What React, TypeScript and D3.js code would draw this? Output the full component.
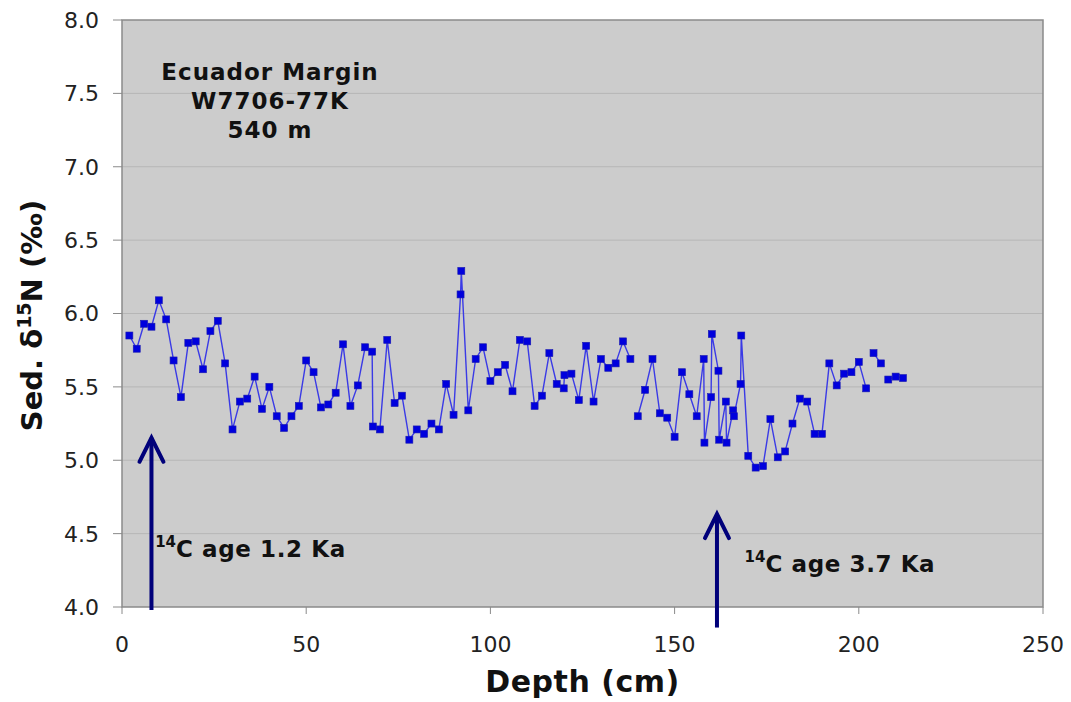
import React from "react";
import * as d3 from "d3";

// Core W7706-77K, Ecuador Margin (540 m): sediment δ15N versus depth.
// null entries break the line where samples are missing.
const depthCm: number[] = [
  2, 4, 6, 8, 10, 12, 14, 16, 18, 20, 22, 24, 26, 28, 30, 32, 34, 36, 38, 40,
  42, 44, 46, 48, 50, 52, 54, 56, 58, 60, 62, 64, 66, 67.9, 68.1, 70, 72, 74,
  76, 78, 80, 82, 84, 86, 88, 90, 91.9, 92.1, 94, 96, 98, 100, 102, 104, 106,
  108, 110, 112, 114, 116, 118, 119.9, 120.1, 122, 124, 126, 128, 130, 132,
  134, 136, 138, 139, 140, 142, 144, 146, 148, 150, 152, 154, 156, 157.9,
  158.1, 159.9, 160.1, 161.9, 162.1, 163.9, 164.1, 165.9, 166.1, 167.9, 168.1,
  170, 172, 174, 176, 178, 180, 182, 184, 186, 188, 190, 192, 194, 196, 198,
  200, 202, 203, 204, 206, 207, 208, 210, 212,
];

const d15N: (number | null)[] = [
  5.85, 5.76, 5.93, 5.91, 6.09, 5.96, 5.68, 5.43, 5.8, 5.81, 5.62, 5.88, 5.95,
  5.66, 5.21, 5.4, 5.42, 5.57, 5.35, 5.5, 5.3, 5.22, 5.3, 5.37, 5.68, 5.6,
  5.36, 5.38, 5.46, 5.79, 5.37, 5.51, 5.77, 5.74, 5.23, 5.21, 5.82, 5.39, 5.44,
  5.14, 5.21, 5.18, 5.25, 5.21, 5.52, 5.31, 6.13, 6.29, 5.34, 5.69, 5.77, 5.54,
  5.6, 5.65, 5.47, 5.82, 5.81, 5.37, 5.44, 5.73, 5.52, 5.49, 5.58, 5.59, 5.41,
  5.78, 5.4, 5.69, 5.63, 5.66, 5.81, 5.69, null, 5.3, 5.48, 5.69, 5.32, 5.29,
  5.16, 5.6, 5.45, 5.3, 5.69, 5.12, 5.43, 5.86, 5.61, 5.14, 5.4, 5.12, 5.34,
  5.3, 5.52, 5.85, 5.03, 4.95, 4.96, 5.28, 5.02, 5.06, 5.25, 5.42, 5.4, 5.18,
  5.18, 5.66, 5.51, 5.59, 5.6, 5.67, 5.49, null, 5.73, 5.66, null, 5.55, 5.57,
  5.56,
];

const xTicks: number[] = [0, 50, 100, 150, 200, 250];
const yTicks: number[] = [4.0, 4.5, 5.0, 5.5, 6.0, 6.5, 7.0, 7.5, 8.0];

const titleLines: string[] = ["Ecuador Margin", "W7706-77K", "540 m"];

// Radiocarbon-dated horizons
const ageDepth: number[] = [8, 161.5];
const ageTip: number[] = [5.16, 4.64];
const ageBase: number[] = [3.98, 3.86];
const ageLabel: string[] = ["C age 1.2 Ka", "C age 3.7 Ka"];
const ageLabelAt: [number, number][] = [
  [9, 4.34],
  [169, 4.24],
];

const W = 1071;
const H = 702;
const left = 122;
const top = 20;
const right = 1043;
const bottom = 607;

const FONT = "'DejaVu Sans', Verdana, sans-serif";

export default function App() {
  const x = d3.scaleLinear().domain([0, 250]).range([left, right]);
  const y = d3.scaleLinear().domain([4, 8]).range([bottom, top]);

  const pts = depthCm.map((d, i) => ({ d, v: d15N[i] }));
  const line = d3
    .line<{ d: number; v: number | null }>()
    .defined((p) => p.v != null)
    .x((p) => x(p.d))
    .y((p) => y(p.v as number));

  const ms = 7;

  return (
    <svg
      width={W}
      height={H}
      style={{ position: "absolute", left: 0, top: 0, background: "#fff" }}
      fontFamily={FONT}
    >
      {/* plot area */}
      <rect x={left} y={top} width={right - left} height={bottom - top} fill="#cccccc" />
      {yTicks.slice(1, -1).map((t) => (
        <line key={t} x1={left} x2={right} y1={y(t)} y2={y(t)} stroke="#b6b6b6" strokeWidth={1} />
      ))}
      <rect
        x={left}
        y={top}
        width={right - left}
        height={bottom - top}
        fill="none"
        stroke="#8a8a8a"
        strokeWidth={1.5}
      />

      {/* y axis */}
      {yTicks.map((t) => (
        <g key={t}>
          <line x1={left - 9} x2={left} y1={y(t)} y2={y(t)} stroke="#8a8a8a" strokeWidth={1} />
          <text x={99} y={y(t)} dy="0.36em" textAnchor="end" fontSize={22} fill="#222">
            {t.toFixed(1)}
          </text>
        </g>
      ))}

      {/* x axis */}
      {xTicks.map((t) => (
        <g key={t}>
          <line x1={x(t)} x2={x(t)} y1={bottom} y2={bottom + 7} stroke="#8a8a8a" strokeWidth={1} />
          <text x={x(t)} y={652} textAnchor="middle" fontSize={22} fill="#222">
            {t}
          </text>
        </g>
      ))}

      {/* axis titles */}
      <text
        x={(left + right) / 2}
        y={692}
        textAnchor="middle"
        fontSize={30}
        fontWeight="bold"
        letterSpacing={0.5}
        fill="#111"
      >
        Depth (cm)
      </text>
      <text
        transform={`translate(42, ${(top + bottom) / 2 + 2}) rotate(-90)`}
        textAnchor="middle"
        fontSize={29}
        fontWeight="bold"
        fill="#111"
      >
        Sed. δ
        <tspan fontSize={19} dy={-11}>
          15
        </tspan>
        <tspan dy={11}>N (‰)</tspan>
      </text>

      {/* series */}
      <path d={line(pts) ?? ""} fill="none" stroke="#3a3ae6" strokeWidth={1.4} />
      {pts
        .filter((p) => p.v != null)
        .map((p, i) => (
          <rect
            key={i}
            x={x(p.d) - ms / 2}
            y={y(p.v as number) - ms / 2}
            width={ms}
            height={ms}
            fill="#0000dd"
            stroke="#1a1ab0"
            strokeWidth={0.6}
          />
        ))}

      {/* core label */}
      {titleLines.map((s, i) => (
        <text
          key={s}
          x={270}
          y={80 + i * 29}
          textAnchor="middle"
          fontSize={23}
          fontWeight="bold"
          letterSpacing={1}
          fill="#111"
        >
          {s}
        </text>
      ))}

      {/* dated horizons */}
      {ageDepth.map((d, i) => {
        const ax = x(d);
        const ty = y(ageTip[i]);
        return (
          <g key={d} stroke="#00007a" strokeWidth={4} fill="none" strokeLinecap="butt">
            <line x1={ax} x2={ax} y1={y(ageBase[i])} y2={ty + 1} />
            <polyline
              points={`${ax - 12},${ty + 25} ${ax},${ty + 1} ${ax + 12},${ty + 25}`}
              strokeLinecap="round"
              strokeLinejoin="miter"
            />
          </g>
        );
      })}
      {ageLabel.map((s, i) => (
        <text
          key={s}
          x={x(ageLabelAt[i][0])}
          y={y(ageLabelAt[i][1])}
          fontSize={23}
          fontWeight="bold"
          fill="#111"
        >
          <tspan fontSize={15} dy={-10}>
            14
          </tspan>
          <tspan dy={10} letterSpacing={0.6}>
            {s}
          </tspan>
        </text>
      ))}
    </svg>
  );
}
